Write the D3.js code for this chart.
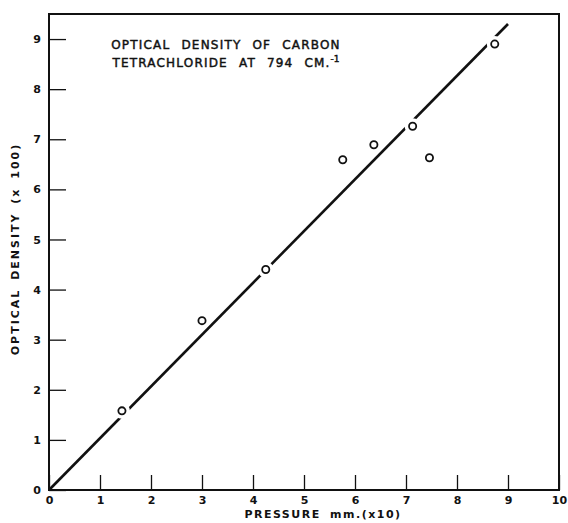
<!DOCTYPE html>
<html>
<head>
<meta charset="utf-8">
<script src="https://cdn.jsdelivr.net/npm/d3@7"></script>
<style>
    body { margin: 0; background: #fff; }
    svg { display: block; }
    text { font-family: "DejaVu Sans", sans-serif; fill: #111; }
</style>
</head>
<body>
<div id="chart"></div>
<script>
// measured points, pressure (mm x10) vs optical density (x100)
const pressure = [1.43, 3.0, 4.25, 5.76, 6.37, 7.13, 7.46, 8.74];
const density = [1.58, 3.38, 4.4, 6.59, 6.89, 7.26, 6.63, 8.9];
// straight fit drawn through origin
const fitX = [0, 9.0];
const fitY = [0, 9.3];
const xTicks = [0, 1, 2, 3, 4, 5, 6, 7, 8, 9, 10];
const yTicks = [0, 1, 2, 3, 4, 5, 6, 7, 8, 9];
const titleLines = ["OPTICAL DENSITY OF CARBON", "TETRACHLORIDE AT 794 CM."];

const width = 568, height = 523;
const margin = {top: 14, right: 9, bottom: 33, left: 49};
const w = width - margin.left - margin.right;
const h = height - margin.top - margin.bottom;

const svg = d3.select("#chart").append("svg")
    .attr("width", width)
    .attr("height", height);

const g = svg.append("g")
    .attr("transform", "translate(" + margin.left + "," + margin.top + ")");

const x = d3.scaleLinear().domain([0, 10]).range([0, w]);
const y = d3.scaleLinear().domain([0, 9.5]).range([h, 0]);

const xAxis = g.append("g")
    .attr("transform", "translate(0," + h + ")")
    .call(d3.axisBottom(x).tickValues(xTicks).tickFormat(d3.format("d"))
        .tickSizeInner(-15).tickSizeOuter(0).tickPadding(6));
const yAxis = g.append("g")
    .call(d3.axisLeft(y).tickValues(yTicks).tickFormat(d3.format("d"))
        .tickSizeInner(-17).tickSizeOuter(0).tickPadding(8));

[xAxis, yAxis].forEach(a => {
    a.select(".domain").remove();
    a.selectAll(".tick line").attr("stroke", "#111").attr("stroke-width", 1.3);
    a.selectAll(".tick text")
        .style("font-size", "11px")
        .style("font-weight", "bold")
        .attr("fill", "#111");
});

// frame
g.append("rect")
    .attr("width", w)
    .attr("height", h)
    .attr("fill", "none")
    .attr("stroke", "#111")
    .attr("stroke-width", 2);

// fitted line
const line = d3.line()
    .x(d => x(d[0]))
    .y(d => y(d[1]));

g.append("path")
    .datum(d3.zip(fitX, fitY))
    .attr("d", line)
    .attr("fill", "none")
    .attr("stroke", "#111")
    .attr("stroke-width", 2.6);

const pts = d3.zip(pressure, density);

// white gaps in the line round each point
g.selectAll(".halo")
    .data(pts)
    .enter()
    .append("circle")
    .attr("class", "halo")
    .attr("cx", d => x(d[0]))
    .attr("cy", d => y(d[1]))
    .attr("r", 8)
    .attr("fill", "#fff");

g.selectAll(".pt")
    .data(pts)
    .enter()
    .append("circle")
    .attr("class", "pt")
    .attr("cx", d => x(d[0]))
    .attr("cy", d => y(d[1]))
    .attr("r", 3.6)
    .attr("fill", "#fff")
    .attr("stroke", "#111")
    .attr("stroke-width", 1.8);

// title
const title = svg.append("text")
    .attr("text-anchor", "middle")
    .style("font-size", "12px")
    .style("letter-spacing", "1.2px")
    .style("word-spacing", "6px")
    .attr("stroke", "#111")
    .attr("stroke-width", 0.45);

title.append("tspan")
    .attr("x", 226)
    .attr("y", 49)
    .text(titleLines[0]);
const t2 = title.append("tspan")
    .attr("x", 226)
    .attr("y", 67)
    .text(titleLines[1]);
t2.append("tspan")
    .attr("dy", -5)
    .style("font-size", "9px")
    .style("letter-spacing", "0px")
    .text("-1");

// axis titles
svg.append("text")
    .attr("x", 323)
    .attr("y", 518)
    .attr("text-anchor", "middle")
    .style("font-size", "11px")
    .style("font-weight", "bold")
    .style("letter-spacing", "1.5px")
    .style("word-spacing", "4px")
    .text("PRESSURE mm.(x10)");

svg.append("text")
    .attr("transform", "translate(19,249) rotate(-90)")
    .attr("text-anchor", "middle")
    .style("font-size", "11px")
    .style("font-weight", "bold")
    .style("letter-spacing", "2px")
    .style("word-spacing", "3px")
    .text("OPTICAL DENSITY (x 100)");
</script>
</body>
</html>
